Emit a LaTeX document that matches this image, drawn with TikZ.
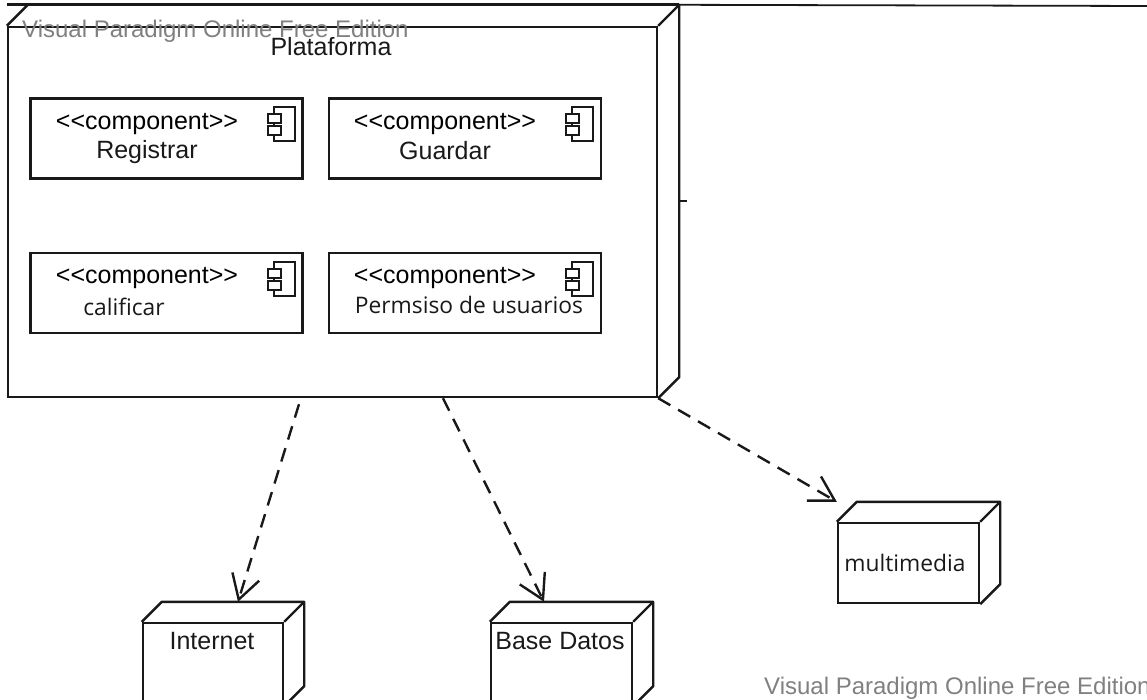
\documentclass[tikz,border=0pt]{standalone}
\usepackage{fontspec}
\setmainfont{Liberation Sans}
\newfontfamily\usrfont{Open Sans}
\usetikzlibrary{arrows.meta, calc}

\tikzset{
    boxline/.style={draw=black!90, line width=2.4pt},
    nodebox/.style={boxline, rectangle, inner sep=0pt},
    compbox/.style={boxline, rectangle, inner sep=0pt, minimum width=272pt, minimum height=80pt},
    stereo/.style={font=\fontsize{25}{27}\selectfont, text=black, inner sep=0pt},
    boxtext/.style={font=\fontsize{25}{27}\selectfont, text=black!90, inner sep=0pt},
    usrtext/.style={font=\usrfont\fontsize{22.8}{26}\selectfont, text=black!90, inner sep=0pt},
    watermark/.style={font=\fontsize{24}{26}\selectfont, text=black!50, inner sep=0pt, anchor=west},
    deploy/.style={line width=2.4pt, black!90, dash pattern=on 14pt off 9pt,
        -{Straight Barb[length=24pt, width=28pt, line width=2.4pt]}}
}

% depth of a 3D node box
\newcommand{\nodedepth}[2]{
    \draw[boxline, line join=round] (#1.north west) -- ++(#2,-#2) -| ($(#1.south east)+(#2,-#2)$) -- (#1.south east);
    \draw[boxline] (#1.north east) -- ++(#2,-#2);
}
% component icon in the corner of a box
\newcommand{\compicon}[1]{
    \draw[boxline, line width=2pt] ($(#1.north east)+(-30,10)$) rectangle ($(#1.north east)+(-9,44)$);
    \draw[boxline, line width=2pt, fill=white] ($(#1.north east)+(-36,17)$) rectangle ($(#1.north east)+(-23,26)$);
    \draw[boxline, line width=2pt, fill=white] ($(#1.north east)+(-36,29)$) rectangle ($(#1.north east)+(-23,38)$);
}

\begin{document}
\begin{tikzpicture}[x=1pt, y=-1pt]
    \useasboundingbox (0,0) rectangle (1147,700);
    \clip (0,0) rectangle (1147,700);

    % Platform node
    \node[nodebox, minimum width=649pt, minimum height=370pt] (plataforma) at (332.5,212) {};
    \nodedepth{plataforma}{21}
    \coordinate (topEnd) at (1147,6);
    \draw[boxline, line width=3pt] ($(plataforma.north west)+(0,-21)$) -- ($(plataforma.north east)+(21,-21)$);
    \draw[boxline, line width=1.8pt] ($(plataforma.north east)+(21,-21)$) -- (topEnd);
    \draw[boxline] ($(plataforma.east)+(21,-11)$) -- ++(8,0);
    \node[boxtext] (plataformaText) at (331,47) {Plataforma};

    % Components
    \node[compbox] (registrar) at (166.5,138.5) {};
    \node[compbox] (guardar) at (465,138.5) {};
    \node[compbox] (calificar) at (166.5,293) {};
    \node[compbox] (permiso) at (465,293) {};
    \compicon{registrar}
    \compicon{guardar}
    \compicon{calificar}
    \compicon{permiso}

    % Component labels
    \node[stereo] (registrarStereo) at (147,124) {<{}<component>{}>};
    \node[boxtext] (registrarText) at (147,152) {Registrar};
    \node[stereo] (guardarStereo) at (445,124) {<{}<component>{}>};
    \node[boxtext] (guardarText) at (445,151) {Guardar};
    \node[stereo] (calificarStereo) at (147,278) {<{}<component>{}>};
    \node[usrtext] (calificarText) at (124,307) {calificar};
    \node[stereo] (permisoStereo) at (445,278) {<{}<component>{}>};
    \node[usrtext] (permisoText) at (469,305) {Permsiso de usuarios};

    % Device nodes
    \node[nodebox, minimum width=140pt, minimum height=82pt] (internet) at (213,664) {};
    \nodedepth{internet}{20}
    \node[boxtext] (internetText) at (212,641) {Internet};
    \node[nodebox, minimum width=141pt, minimum height=82pt] (baseDatos) at (561.5,664) {};
    \nodedepth{baseDatos}{20}
    \node[boxtext] (baseDatosText) at (560,641) {Base Datos};
    \node[nodebox, minimum width=141pt, minimum height=80pt] (multimedia) at (908.5,563) {};
    \nodedepth{multimedia}{20}
    \node[usrtext] (multimediaText) at (905,563) {multimedia};

    % Dependencies
    \draw[deploy] ($(plataforma.south)+(-33.5,6)$) -- ($(internet.north)+(25,-20)$);
    \draw[deploy] ($(plataforma.south)+(110.5,0)$) -- ($(baseDatos.north)+(-17.5,-20)$);
    \draw[deploy] (plataforma.south east) -- ($(multimedia.north west)+(0,-20)$);

    % Watermarks
    \node[watermark] (markTop) at (22,31) {Visual Paradigm Online Free Edition};
    \node[watermark] (markBottom) at (764,688) {Visual Paradigm Online Free Edition};
\end{tikzpicture}
\end{document}
